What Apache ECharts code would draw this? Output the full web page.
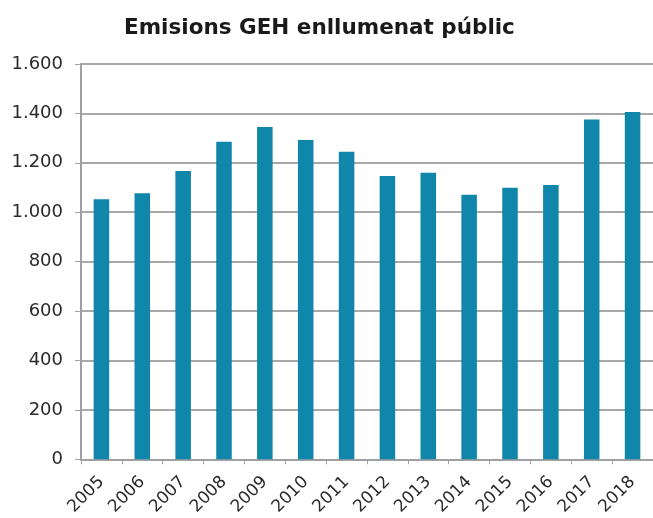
<!DOCTYPE html>
<html>
<head>
<meta charset="utf-8">
<script src="https://cdn.jsdelivr.net/npm/echarts@6/dist/echarts.min.js"></script>
<style>
  html, body { margin: 0; padding: 0; background: #fff; }
  #chart { width: 653px; height: 518px; }
</style>
</head>
<body>
<div id="chart"></div>
<script>
// Dades llegides del gràfic
const anys = ["2005", "2006", "2007", "2008", "2009", "2010", "2011",
  "2012", "2013", "2014", "2015", "2016", "2017", "2018"];
const emisions = [1053, 1077, 1167, 1285, 1345, 1292, 1245,
  1147, 1160, 1071, 1099, 1110, 1375, 1406];
const yMax = 1600;
const yInterval = 200;

const chart = echarts.init(document.getElementById("chart"));

// format amb punt de milers
const fmt = (v) => String(v).replace(/\B(?=(\d{3})+(?!\d))/g, ".");

const options = {
  animation: false,
  textStyle: { fontFamily: "DejaVu Sans, sans-serif" },
  title: {
    text: "Emisions GEH enllumenat públic",
    left: 119,
    top: 12,
    textStyle: { fontSize: 21.5, fontWeight: "bold", color: "#1a1a1a" },
  },
  grid: {
    left: 81,
    top: 64,
    width: 582,
    height: 399,
  },
  xAxis: {
    type: "category",
    data: anys,
    axisLine: { lineStyle: { color: "#a0a0a0", width: 2 } },
    axisTick: { show: true, length: 5, lineStyle: { color: "#a0a0a0" } },
    axisLabel: {
      interval: 0,
      rotate: 45,
      fontSize: 17,
      color: "#2a2a2a",
      margin: 20,
    },
  },
  yAxis: {
    type: "value",
    min: 0,
    max: yMax,
    interval: yInterval,
    axisLine: { show: true, lineStyle: { color: "#a0a0a0", width: 2 } },
    axisTick: { show: true, length: 6, lineStyle: { color: "#a0a0a0" } },
    splitLine: { lineStyle: { color: "#a8a8a8", width: 2 } },
    axisLabel: {
      fontSize: 18,
      color: "#2a2a2a",
      margin: 18,
      formatter: fmt,
    },
  },
  series: [
    {
      type: "bar",
      data: emisions,
      barWidth: "38%",
      itemStyle: { color: "#0f86aa" },
    },
  ],
};

chart.setOption(options);
</script>
</body>
</html>
